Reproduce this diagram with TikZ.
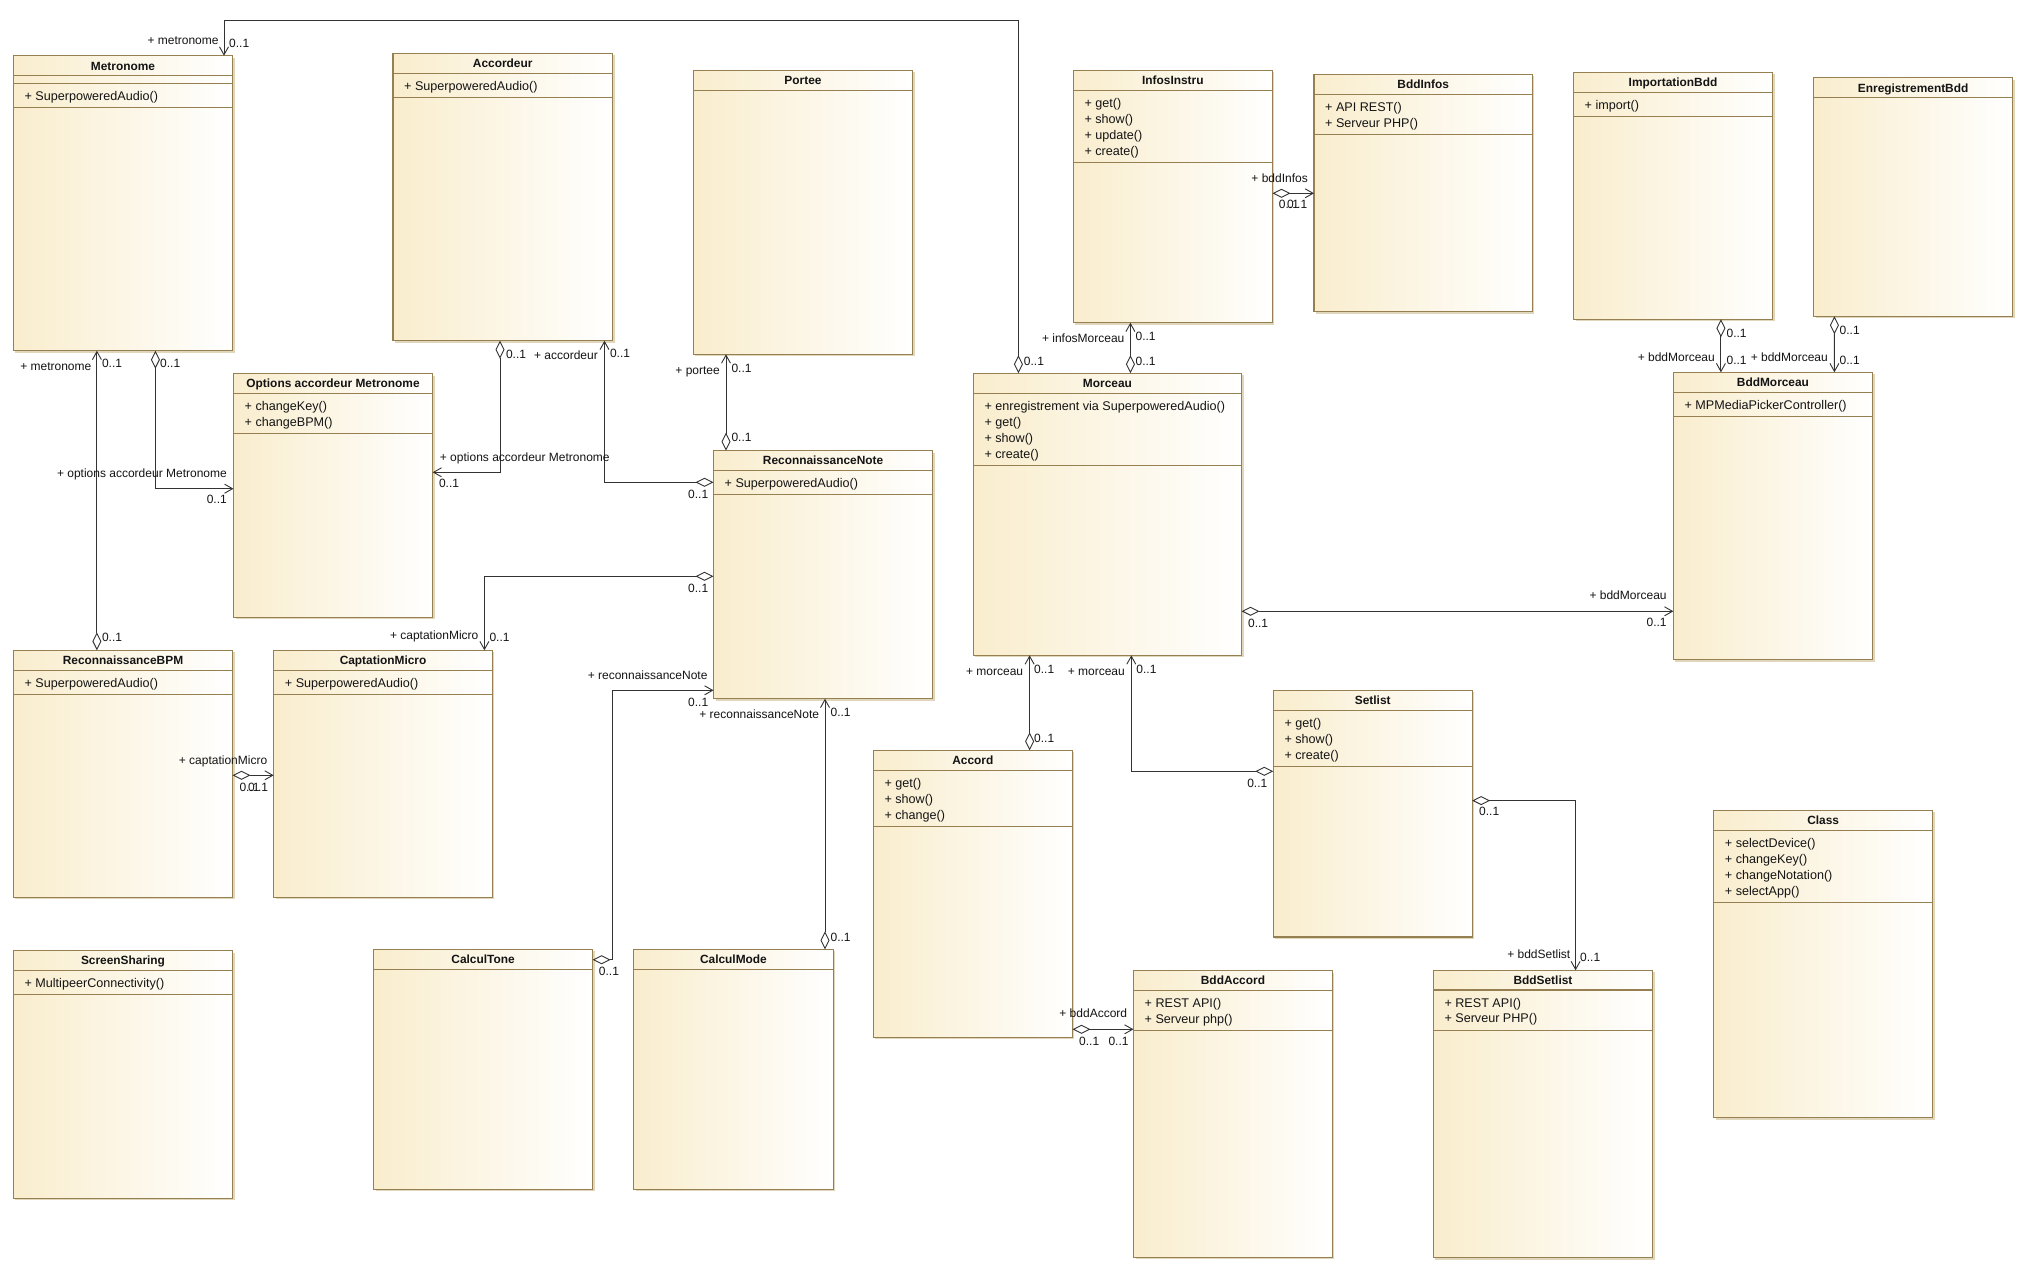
\documentclass[tikz,border=0pt]{standalone}
\usepackage{fontspec}
\setmainfont{Liberation Sans}
\usetikzlibrary{arrows.meta}
\definecolor{clsborder}{RGB}{150,128,82}
\definecolor{clsfillc}{RGB}{249,237,205}
\definecolor{clsshadowc}{RGB}{224,214,188}
\definecolor{linec}{RGB}{51,51,51}
\definecolor{txtc}{RGB}{20,20,20}
\tikzset{
 clsnode/.style={draw=clsborder, line width=1.3pt, left color=clsfillc, right color=white, inner sep=0pt, outer sep=0pt, anchor=north west},
 clssep/.style={draw=clsborder, line width=1.1pt},
 clstitle/.style={font=\fontsize{11.9}{14}\selectfont\bfseries, text=txtc, inner sep=0pt, text height=8.6pt, text depth=0pt},
 optext/.style={font=\fontsize{12.6}{15}\selectfont, text=txtc, inner sep=0pt, anchor=west, text height=9pt, text depth=0pt},
 lblw/.style={font=\fontsize{12}{14}\selectfont, text=txtc, inner sep=0pt, anchor=west, text height=8.6pt, text depth=0pt},
 lble/.style={lblw, anchor=east},
 aggr/.style={draw=linec, line width=0.9pt, {Diamond[open,length=18pt,width=9pt]}-{Straight Barb[length=8pt,width=9pt]}},
}
\newcommand\umlcls[7]{%
  \fill[clsshadowc] (#2+2,#3+2) rectangle (#4+2,#5+2);
  \node[clsnode, minimum width=#4-#2, minimum height=#5-#3] (#1) at (#2,#3) {};
  \draw[clssep] (#2,#6) -- (#4,#6);
  \node[clstitle] at ({(#2+#4)/2},{(#3+#6)/2}) {#7};
}
\newcommand\umlop[3]{\node[optext] at (#1,#2) {+ #3};}
\newcommand\umldiv[3]{\draw[clssep] (#1,#3) -- (#2,#3);}
\newcommand\lblW[3]{\node[lblw] at (#1,#2) {#3};}
\newcommand\lblE[3]{\node[lble] at (#1,#2) {#3};}
\begin{document}
\begin{tikzpicture}[x=1pt,y=-1pt]
\useasboundingbox[fill=white] (0,0) rectangle (2024,1269);

% ---- classes ----
\umlcls{metro}{13.4}{55.7}{232.6}{350.7}{75.7}{Metronome}
\umldiv{13.4}{232.6}{83.3}
\umlop{24.4}{96}{SuperpoweredAudio()}
\umldiv{13.4}{232.6}{107.3}

\umlcls{accordeur}{393}{53.3}{612.5}{340.7}{73.3}{Accordeur}
\umlop{404}{86}{SuperpoweredAudio()}
\umldiv{393}{612.5}{97.3}

\umlcls{portee}{693.4}{70.3}{912.6}{354.3}{90.3}{Portee}

\umlcls{infos}{1073.3}{70.3}{1272.4}{322.7}{90.3}{InfosInstru}
\umlop{1084.3}{103.3}{get()}
\umlop{1084.3}{119}{show()}
\umlop{1084.3}{134.7}{update()}
\umlop{1084.3}{150.7}{create()}
\umldiv{1073.3}{1272.4}{162.3}

\umlcls{bddinfos}{1314}{74.3}{1532.4}{311.7}{94.3}{BddInfos}
\umlop{1325}{107}{API REST()}
\umlop{1325}{123}{Serveur PHP()}
\umldiv{1314}{1532.4}{134.7}

\umlcls{import}{1573.5}{72.3}{1772.5}{319.3}{92.3}{ImportationBdd}
\umlop{1584.5}{105}{import()}
\umldiv{1573.5}{1772.5}{116.3}

\umlcls{enreg}{1813.6}{77.7}{2012.7}{316.3}{97.7}{EnregistrementBdd}

\umlcls{options}{233.5}{373.7}{432.6}{617.3}{393.3}{Options accordeur Metronome}
\umlop{244.5}{406}{changeKey()}
\umlop{244.5}{421.7}{changeBPM()}
\umldiv{233.5}{432.6}{433.3}

\umlcls{reconote}{713.5}{450.7}{932.7}{698.7}{470.3}{ReconnaissanceNote}
\umlop{724.5}{482.7}{SuperpoweredAudio()}
\umldiv{713.5}{932.7}{494.7}

\umlcls{morceau}{973.3}{373.3}{1241.6}{655.3}{393.3}{Morceau}
\umlop{984.3}{406}{enregistrement via SuperpoweredAudio()}
\umlop{984.3}{422}{get()}
\umlop{984.3}{437.7}{show()}
\umlop{984.3}{453.7}{create()}
\umldiv{973.3}{1241.6}{465.3}

\umlcls{bddmorceau}{1673.4}{372.3}{1872.5}{659.6}{392.3}{BddMorceau}
\umlop{1684.4}{405}{MPMediaPickerController()}
\umldiv{1673.4}{1872.5}{416.3}

\umlcls{recobpm}{13.4}{650.3}{232.6}{897.3}{670.3}{ReconnaissanceBPM}
\umlop{24.4}{683}{SuperpoweredAudio()}
\umldiv{13.4}{232.6}{694.3}

\umlcls{capta}{273.7}{650.3}{492.4}{897.3}{670.3}{CaptationMicro}
\umlop{284.7}{683}{SuperpoweredAudio()}
\umldiv{273.7}{492.4}{694.3}

\umlcls{accord}{873.3}{750.3}{1072.4}{1037.3}{770.3}{Accord}
\umlop{884.3}{783.3}{get()}
\umlop{884.3}{799}{show()}
\umlop{884.3}{815}{change()}
\umldiv{873.3}{1072.4}{826.3}

\umlcls{setlist}{1273.3}{690.3}{1472.2}{937}{710.4}{Setlist}
\umlop{1284.3}{723}{get()}
\umlop{1284.3}{739}{show()}
\umlop{1284.3}{755}{create()}
\umldiv{1273.3}{1472.2}{766.3}

\umlcls{klass}{1713.7}{810.4}{1932.6}{1117.5}{830.6}{Class}
\umlop{1724.7}{842.8}{selectDevice()}
\umlop{1724.7}{858.9}{changeKey()}
\umlop{1724.7}{874.7}{changeNotation()}
\umlop{1724.7}{890.9}{selectApp()}
\umldiv{1713.7}{1932.6}{902.7}

\umlcls{screen}{13.4}{950.5}{232.6}{1198.3}{970.3}{ScreenSharing}
\umlop{24.4}{982.7}{MultipeerConnectivity()}
\umldiv{13.4}{232.6}{994.7}

\umlcls{tone}{373.5}{949.3}{592.6}{1189.3}{969.3}{CalculTone}
\umlcls{mode}{633.5}{949.3}{833.4}{1189.3}{969.3}{CalculMode}

\umlcls{bddaccord}{1133.5}{970.7}{1332.4}{1257.3}{990.3}{BddAccord}
\umlop{1144.5}{1003}{REST API()}
\umlop{1144.5}{1019}{Serveur php()}
\umldiv{1133.5}{1332.4}{1030.3}

\umlcls{bddsetlist}{1433.3}{970.3}{1652.6}{1257.5}{990}{BddSetlist}
\umlop{1444.3}{1002.7}{REST API()}
\umlop{1444.3}{1018.4}{Serveur PHP()}
\umldiv{1433.3}{1652.6}{1030.2}

% ---- connectors ----
\draw[aggr] ([xshift=45.1pt]morceau.north west) -- ++(0,-353) -| ([xshift=210.6pt]metro.north west);
\draw[aggr] ([xshift=142pt]metro.south west) |- ([yshift=-115pt]options.north west);
\draw[aggr] ([xshift=83.5pt]recobpm.north west) -- ([xshift=83.5pt]metro.south west);
\draw[aggr] ([xshift=107pt]accordeur.south west) |- ([yshift=-98.6pt]options.north east);
\draw[aggr] ([yshift=-31.6pt]reconote.north west) -| ([xshift=211.5pt]accordeur.south west);
\draw[aggr] ([xshift=12.5pt]reconote.north west) -- ([xshift=32.6pt]portee.south west);
\draw[aggr] ([yshift=-125.6pt]reconote.north west) -| ([xshift=210.7pt]capta.north west);
\draw[aggr] ([yshift=-125pt]recobpm.north east) -- ([yshift=-125pt]capta.north west);
\draw[aggr] ([yshift=-10.4pt]tone.north east) -- ++(19.9,0) |- ([yshift=-239.6pt]reconote.north west);
\draw[aggr] ([xshift=191.5pt]mode.north west) -- ([xshift=111.5pt]reconote.south west);
\draw[aggr] ([yshift=-123pt]infos.north east) -- ([yshift=-119pt]bddinfos.north west);
\draw[aggr] ([xshift=157.1pt]morceau.north west) -- ([xshift=57.1pt]infos.south west);
\draw[aggr] ([yshift=-238pt]morceau.north east) -- ([yshift=-239pt]bddmorceau.north west);
\draw[aggr] ([xshift=147.4pt]import.south west) -- ([xshift=47.5pt]bddmorceau.north west);
\draw[aggr] ([xshift=20.8pt]enreg.south west) -- ([xshift=161pt]bddmorceau.north west);
\draw[aggr] ([xshift=156.3pt]accord.north west) -- ([xshift=56.3pt]morceau.south west);
\draw[aggr] ([yshift=-81pt]setlist.north west) -| ([xshift=158pt]morceau.south west);
\draw[aggr] ([yshift=-279pt]accord.north east) -- ([yshift=-58.6pt]bddaccord.north west);
\draw[aggr] ([yshift=-110.3pt]setlist.north east) -| ([xshift=142.3pt]bddsetlist.north west);

% ---- labels ----
\lblE{218.75}{40}{+ metronome}\lblW{229}{42.7}{0..1}\lblW{1023.75}{360.7}{0..1}
\lblW{160}{363.3}{0..1}\lblE{227}{472.7}{+ options accordeur Metronome}\lblE{227}{499.3}{0..1}
\lblE{91.5}{365.7}{+ metronome}\lblW{101.8}{363.3}{0..1}\lblW{101.8}{637.3}{0..1}
\lblW{505.8}{354}{0..1}\lblW{439.7}{456.7}{+ options accordeur Metronome}\lblW{438.8}{483.3}{0..1}
\lblE{598}{355.3}{+ accordeur}\lblW{609.8}{353.3}{0..1}\lblW{688}{493.7}{0..1}
\lblE{720}{369.7}{+ portee}\lblW{731.3}{367.7}{0..1}\lblW{731.3}{437.3}{0..1}
\lblW{688}{587.7}{0..1}\lblE{478.6}{635}{+ captationMicro}\lblW{489.3}{637.3}{0..1}
\lblE{267.4}{759.7}{+ captationMicro}\lblW{239.3}{786.7}{0..1}\lblW{247.8}{786.7}{0..1}
\lblW{598.7}{970.7}{0..1}\lblE{707.7}{674.7}{+ reconnaissanceNote}\lblW{688}{701.7}{0..1}
\lblE{819.3}{713.7}{+ reconnaissanceNote}\lblW{830.4}{712}{0..1}\lblW{830.4}{936.7}{0..1}
\lblE{1308}{178}{+ bddInfos}\lblW{1278.7}{204.3}{0..1}\lblW{1287}{204.3}{0..1}
\lblE{1124.6}{337.7}{+ infosMorceau}\lblW{1135.4}{335.7}{0..1}\lblW{1135.4}{360.7}{0..1}
\lblW{1247.9}{622.7}{0..1}\lblE{1666.8}{595.6}{+ bddMorceau}\lblE{1666.8}{622.6}{0..1}
\lblW{1726.4}{332.7}{0..1}\lblE{1715}{357}{+ bddMorceau}\lblW{1726.4}{359.7}{0..1}
\lblW{1839.5}{330}{0..1}\lblE{1828}{357}{+ bddMorceau}\lblW{1839.5}{359.7}{0..1}
\lblE{1023.3}{670.7}{+ morceau}\lblW{1034}{668.7}{0..1}\lblW{1034}{737.7}{0..1}
\lblE{1125}{670.7}{+ morceau}\lblW{1136.25}{668.7}{0..1}\lblE{1267.5}{782.7}{0..1}
\lblE{1127.3}{1013.3}{+ bddAccord}\lblW{1079}{1040.7}{0..1}\lblW{1108.3}{1040.7}{0..1}
\lblW{1479}{811.4}{0..1}\lblE{1570.5}{954.6}{+ bddSetlist}\lblW{1580}{957.6}{0..1}
\end{tikzpicture}
\end{document}
